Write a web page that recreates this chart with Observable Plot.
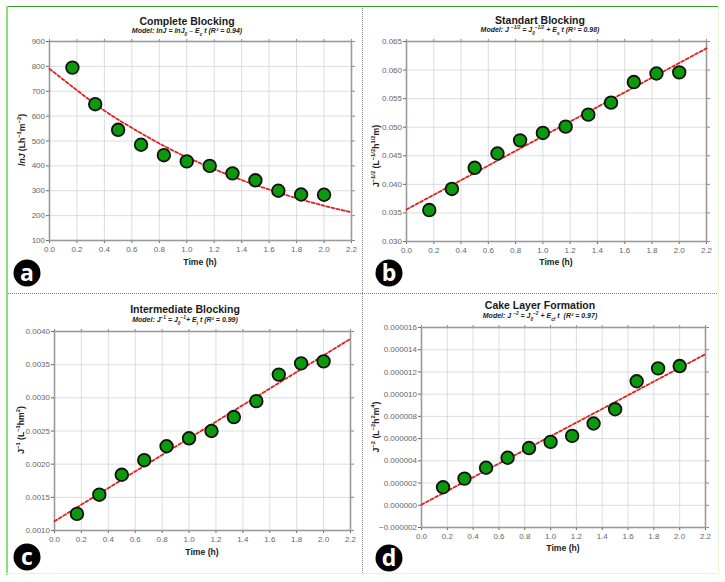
<!DOCTYPE html>
<html><head><meta charset="utf-8">
<script src="https://cdn.jsdelivr.net/npm/d3@7"></script>
<script src="https://cdn.jsdelivr.net/npm/@observablehq/plot@0.6"></script>
<style>
body{margin:0;background:#fff;font-family:"Liberation Sans",Arial,sans-serif;}
#root{position:relative;width:725px;height:582px;overflow:hidden;background:#fff;}
.panel{position:absolute;}
.panel svg{display:block;overflow:visible;}
.t{position:absolute;transform:translate(-50%,-50%);white-space:nowrap;}
.title{font-weight:bold;font-size:10.5px;color:#1a1a1a;}
.sub{font-weight:bold;font-style:italic;font-size:7px;color:#222;}
.xlab{font-weight:bold;font-size:8.6px;color:#222;}
.ylab{position:absolute;transform:translate(-50%,-50%) rotate(-90deg);white-space:nowrap;font-weight:bold;font-size:8.6px;color:#222;}
sup,sub{font-size:68%;line-height:0;}
.badge{position:absolute;width:27px;height:27px;border-radius:50%;background:#000;color:#fff;font-family:"Open Sans",sans-serif;font-weight:bold;font-size:23px;text-align:center;line-height:25px;transform:translate(-50%,-50%);}
.line{position:absolute;}
</style>
</head><body>
<div id="root"></div>
<script>
// ---- data ----
const time = [0.167, 0.333, 0.5, 0.667, 0.833, 1.0, 1.167, 1.333, 1.5, 1.667, 1.833, 2.0];
const completeJ = [795, 648, 545, 485, 443, 418, 400, 370, 342, 300, 285, 284];
const standardJ = [0.0355, 0.0392, 0.0429, 0.0454, 0.0477, 0.0490, 0.0501, 0.0522, 0.0543, 0.0579, 0.0594, 0.0596];
const intermediateJ = [0.00125, 0.00154, 0.00184, 0.00206, 0.00227, 0.00239, 0.00250, 0.00271, 0.00295, 0.00335, 0.00352, 0.00355];
const cakeJ = [1.62e-6, 2.40e-6, 3.38e-6, 4.28e-6, 5.15e-6, 5.71e-6, 6.25e-6, 7.36e-6, 8.64e-6, 11.16e-6, 12.32e-6, 12.53e-6];

// fitted model curves
const fitAt = [0, 0.2, 0.4, 0.6, 0.8, 1.0, 1.2, 1.4, 1.6, 1.8, 2.0, 2.2];
const fitAy = [790, 704, 622, 553, 490, 435, 387, 343, 305, 270, 240, 213];
const fitLineT = [0, 2.2];
const fitBy = [0.0356, 0.0638];
const fitCy = [0.00114, 0.00389];
const fitDy = [0.06e-6, 13.6e-6];

// tick labels
const xTicks = [0, 0.2, 0.4, 0.6, 0.8, 1.0, 1.2, 1.4, 1.6, 1.8, 2.0, 2.2];
const yTicksA = [100, 200, 300, 400, 500, 600, 700, 800, 900];
const yTicksB = [0.030, 0.035, 0.040, 0.045, 0.050, 0.055, 0.060, 0.065];
const yTicksC = [0.0010, 0.0015, 0.0020, 0.0025, 0.0030, 0.0035, 0.0040];
const yTicksD = [-2e-6, 0, 2e-6, 4e-6, 6e-6, 8e-6, 10e-6, 12e-6, 14e-6, 16e-6];

const titles = ["Complete Blocking", "Standart Blocking", "Intermediate Blocking", "Cake Layer Formation"];
const subtitles = [
  "Model: lnJ = lnJ<sub>0</sub> – E<sub>c</sub> t (R² = 0.94)",
  "Model: J <sup>−1/2</sup> = J<sub>0</sub><sup>−1/2</sup> + E<sub>s</sub> t (R² = 0.98)",
  "Model: J<sup>−1</sup> = J<sub>0</sub><sup>−1</sup>+ E<sub>i</sub> t (R² = 0.99)",
  "Model: J <sup>−2</sup> = J<sub>0</sub><sup>−2</sup> + E<sub>cf</sub> t&nbsp; (R² = 0.97)"
];
const yLabels = [
  "<i>lnJ</i> (Lh<sup>−1</sup>m<sup>−2</sup>)",
  "J<sup>−1/2</sup> (L<sup>−1/2</sup>h<sup>1/2</sup>m)",
  "J<sup>−1</sup> (L<sup>−1</sup>hm<sup>2</sup>)",
  "J<sup>−2</sup> (L<sup>−2</sup>h<sup>2</sup>m<sup>4</sup>)"
];
const badges = ["a", "b", "c", "d"];

// ---- layout ----
const root = document.getElementById("root");
function add(cls, html, x, y, extra) {
  const d = document.createElement("div");
  d.className = cls;
  d.innerHTML = html;
  d.style.left = x + "px"; d.style.top = y + "px";
  if (extra) Object.assign(d.style, extra);
  root.appendChild(d);
  return d;
}

function panel(i, px, py, w, h, m, yDomain, yTicks, yFmt, values, fitX, fitY, curved, lay) {
  const fw = w - m.l - m.r;
  const chart = Plot.plot({
    width: w, height: h,
    marginLeft: m.l, marginRight: m.r, marginTop: m.t, marginBottom: m.b,
    style: {fontFamily: '"Liberation Sans", Arial, sans-serif', fontSize: "8px", background: "transparent", color: "#555"},
    x: {domain: [0, 2.2]},
    y: {domain: yDomain},
    marks: [
      Plot.gridX(xTicks, {stroke: "#d4d4d4", strokeOpacity: 1, strokeWidth: 0.8}),
      Plot.gridY(yTicks, {stroke: "#d4d4d4", strokeOpacity: 1, strokeWidth: 0.8}),
      Plot.axisX(xTicks, {tickFormat: d => d.toFixed(1), tickSize: 3, tickPadding: 3, label: null, color: "#666"}),
      Plot.axisX(xTicks, {anchor: "top", tickFormat: () => "", tickSize: 3, label: null, color: "#888"}),
      Plot.axisY(yTicks, {tickFormat: yFmt, tickSize: 3, tickPadding: 1.5, label: null, color: "#666"}),
      Plot.axisY(yTicks, {anchor: "right", tickFormat: () => "", tickSize: 3, label: null, color: "#888"}),
      Plot.frame({stroke: "#9a9a9a", strokeWidth: 1.6}),
      Plot.line(fitY, {x: fitX, y: fitY, curve: curved ? "natural" : "linear", stroke: "#e3201b", strokeWidth: 1.8, strokeDasharray: "3,2.2"}),
      Plot.dot(values, {x: time, y: values, r: 6.3, fill: "#0b9a0b", stroke: "#111", strokeWidth: 1.8})
    ]
  });
  const holder = document.createElement("div");
  holder.className = "panel";
  holder.style.left = px + "px"; holder.style.top = py + "px";
  holder.appendChild(chart);
  root.appendChild(holder);
  add("t title", titles[i], px + lay.tx, py + lay.ty);
  add("t sub", subtitles[i], px + lay.tx, py + lay.sy);
  add("t xlab", "Time (h)", px + m.l + fw / 2, py + lay.xy);
  add("ylab", yLabels[i], px + lay.yx, py + lay.yy);
  add("badge", badges[i], px + 27, py + lay.by);
}

panel(0, 0, 0, 362, 290, {l: 49, r: 11, t: 41, b: 50}, [100, 900], yTicksA, d => d.toFixed(0),
  completeJ, fitAt, fitAy, true, {tx: 187, ty: 20.5, sy: 31, xy: 262, yx: 22, yy: 140, by: 273});
panel(1, 362, 0, 363, 290, {l: 44, r: 19, t: 41, b: 49}, [0.030, 0.065], yTicksB, d => d.toFixed(3),
  standardJ, fitLineT, fitBy, false, {tx: 178, ty: 19.5, sy: 30, xy: 262, yx: 13.5, yy: 156, by: 273});
panel(2, 0, 290, 362, 292, {l: 54, r: 12, t: 41, b: 52}, [0.0010, 0.0040], yTicksC, d => d.toFixed(4),
  intermediateJ, fitLineT, fitCy, false, {tx: 185, ty: 19, sy: 29.5, xy: 262, yx: 21, yy: 140, by: 267});
panel(3, 362, 290, 363, 292, {l: 59, r: 20, t: 37, b: 55}, [-2e-6, 16e-6], yTicksD, d => (d < 0 ? "−" : "") + Math.abs(d).toFixed(6),
  cakeJ, fitLineT, fitDy, false, {tx: 178, ty: 15, sy: 26, xy: 258, yx: 13.5, yy: 137, by: 268});

// frame lines and separators
add("line", "", 6, 5.5, {width: "712px", height: "0", borderTop: "1.6px solid #3a9f2c"});
add("line", "", 5.5, 6, {width: "0", height: "569px", borderLeft: "2px solid #8ede7c"});
add("line", "", 6, 573, {width: "712px", height: "0", borderTop: "1.5px solid #e2f6da"});
add("line", "", 717.5, 6, {width: "0", height: "567px", borderLeft: "1.5px solid #e2f6da"});
add("line", "", 362, 8, {width: "0", height: "565px", borderLeft: "1.3px dotted #8a8a8a"});
add("line", "", 8, 292.5, {width: "709px", height: "0", borderTop: "1.3px dotted #8a8a8a"});
</script>
</body></html>
